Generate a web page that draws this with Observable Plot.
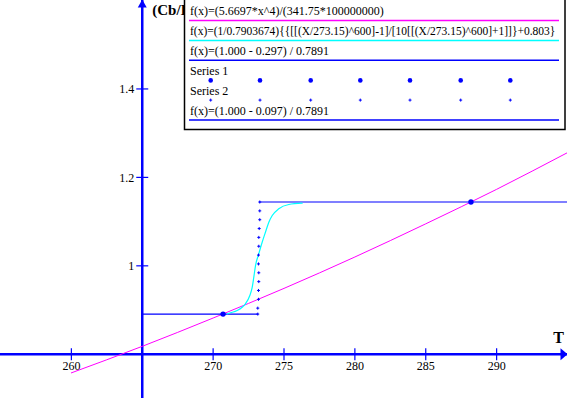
<!DOCTYPE html>
<html><head><meta charset="utf-8">
<script src="https://cdn.jsdelivr.net/npm/d3@7"></script>
<script src="https://cdn.jsdelivr.net/npm/@observablehq/plot@0.6"></script>
<style>
body{margin:0;background:#fff;}
#wrap{position:relative;width:567px;height:398px;overflow:hidden;font-family:"Liberation Serif",serif;}
#wrap svg{display:block;}
#legend{position:absolute;left:0;top:0;}
</style></head><body><div id="wrap"></div>
<script>
// ---- data ----
const xTicks = [260, 270, 275, 280, 285, 290];
const yTicks = [1, 1.2, 1.4];
const xAxisAt = 0.8;   // horizontal axis crosses at y = 0.8
const yAxisAt = 265;   // vertical axis crosses at T = 265
const xTitle = "T";
const yTitle = "(Cb/I";  // the rest is hidden behind the legend box in the reference

const magentaX = [260, 265, 270, 275, 280, 285, 290, 295];
const magentaY = [0.758, 0.818, 0.882, 0.949, 1.020, 1.095, 1.173, 1.256];

const cyanX = [270.99, 271.23, 271.70, 272.05, 272.28, 272.59, 272.76, 272.87, 272.99, 273.22, 273.46, 273.69, 273.93, 274.17, 274.63, 275.34, 276.28];
const cyanY = [0.8915, 0.8938, 0.8990, 0.9064, 0.9141, 0.9329, 0.9517, 0.9743, 1.0007, 1.0272, 1.0534, 1.0760, 1.0987, 1.1138, 1.1290, 1.1387, 1.1416];

const lowX = [265, 273.15];
const lowY = [0.8909, 0.8909];
const highX = [273.29, 295];
const highY = [1.1443, 1.1443];

const s1X = [270.7, 288.19];
const s1Y = [0.8909, 1.1443];

const s2X = [273.29, 273.29, 273.29, 273.25, 273.22, 273.22, 273.20, 273.20, 273.22, 273.22, 273.20, 273.20, 273.15, 273.15];
const s2Y = [1.1443, 1.1243, 1.1043, 1.0843, 1.0643, 1.0443, 1.0243, 1.0043, 0.9843, 0.9643, 0.9443, 0.9243, 0.9043, 0.8909];

const legendLabels = [
  "f(x)=(5.6697*x^4)/(341.75*100000000)",
  "f(x)=(1/0.7903674){{[[(X/273.15)^600]-1]/[10[[(X/273.15)^600]+1]]}+0.803}",
  "f(x)=(1.000 - 0.297) / 0.7891",
  "Series 1",
  "Series 2",
  "f(x)=(1.000 - 0.097) / 0.7891"
];
const legendKinds = ["line", "line", "line", "dot", "plus", "line"];
const legendColors = ["#ff00ff", "#00ffff", "#0000ff", "#0000ff", "#0000ff", "#0000ff"];

// ---- build tables ----
const zip = (xs, ys) => xs.map((x, i) => ({x, y: ys[i]}));
const magenta = zip(magentaX, magentaY);
const cyan = zip(cyanX, cyanY);
const low = zip(lowX, lowY);
const high = zip(highX, highY);
const s1 = zip(s1X, s1Y);
const s2 = zip(s2X, s2Y);

const BLUE = "#0000ff";
const FONT = "Liberation Serif";

const vTick = {draw(c) { c.moveTo(0, -6); c.lineTo(0, 6); }};
const hTick = {draw(c) { c.moveTo(-6, 0); c.lineTo(6, 0); }};
const arrowUp = {draw(c) { c.moveTo(0, -1); c.lineTo(4.5, 7); c.lineTo(-4.5, 7); c.closePath(); }};
const arrowRight = {draw(c) { c.moveTo(0, 0); c.lineTo(-7, -6); c.lineTo(-7, 6); c.closePath(); }};
const plusSym = {draw(c) { c.moveTo(-1.5, 0); c.lineTo(1.5, 0); c.moveTo(0, -1.5); c.lineTo(0, 1.5); }};

const chart = Plot.plot({
  width: 567,
  height: 398,
  margin: 0,
  x: {domain: [255, 295], axis: null},
  y: {domain: [0.7, 1.6], axis: null},
  style: {background: "#fff", fontFamily: FONT},
  marks: [
    // axes
    Plot.ruleY([xAxisAt], {stroke: BLUE, strokeWidth: 2.5}),
    Plot.ruleX([yAxisAt], {stroke: BLUE, strokeWidth: 2.5}),
    Plot.dot(xTicks, {x: d => d, y: xAxisAt, symbol: vTick, stroke: BLUE, strokeWidth: 1.2, fill: "none"}),
    Plot.dot(yTicks, {x: yAxisAt, y: d => d, symbol: hTick, stroke: BLUE, strokeWidth: 1.2, fill: "none"}),
    Plot.dot([0], {x: yAxisAt, y: 1.6, symbol: arrowUp, fill: BLUE, stroke: "none"}),
    Plot.dot([0], {x: 295, y: xAxisAt, symbol: arrowRight, fill: BLUE, stroke: "none"}),
    Plot.text(xTicks, {x: d => d, y: xAxisAt, text: d => String(d), dy: 12, fontSize: 12, fill: "#000", fontFamily: FONT}),
    Plot.text(yTicks, {x: yAxisAt, y: d => d, text: d => String(d), dx: -8, dy: 0.5, textAnchor: "end", fontSize: 12, fill: "#000", fontFamily: FONT}),
    Plot.text([xTitle], {x: 295, y: xAxisAt, text: d => d, dx: -9, dy: -16, fontSize: 16, fontWeight: "bold", fill: "#000", fontFamily: FONT}),
    Plot.text([yTitle], {x: yAxisAt, y: 1.6, text: d => d, dx: 10, dy: 10, textAnchor: "start", fontSize: 15, fontWeight: "bold", fill: "#000", fontFamily: FONT}),
    // data
    Plot.line(magenta, {x: "x", y: "y", stroke: "#ff00ff", strokeWidth: 1, curve: "monotone-x"}),
    Plot.line(low, {x: "x", y: "y", stroke: BLUE, strokeWidth: 1.2}),
    Plot.line(high, {x: "x", y: "y", stroke: BLUE, strokeWidth: 1.2}),
    Plot.line(cyan, {x: "x", y: "y", stroke: "#00ffff", strokeWidth: 1.2, curve: "monotone-x"}),
    Plot.dot(s2, {x: "x", y: "y", symbol: plusSym, stroke: BLUE, strokeWidth: 1, fill: "none"}),
    Plot.dot(s1, {x: "x", y: "y", r: 2.7, fill: BLUE, stroke: "none"})
  ]
});
const wrap = document.getElementById("wrap");
wrap.appendChild(chart);

// ---- legend box (overlay) ----
const lg = d3.create("svg").attr("id", "legend").attr("width", 567).attr("height", 398);
lg.append("rect").attr("x", 184.5).attr("y", -2).attr("width", 380.5).attr("height", 131.5)
  .attr("fill", "#fff").attr("stroke", "#000").attr("stroke-width", 1.5);
const markerXs = [210.7, 260, 310.7, 360.3, 410, 460.7, 510.3];
legendLabels.forEach((lab, i) => {
  const base = 15 + 19.9 * i;
  lg.append("text").attr("x", 190).attr("y", base).attr("font-family", FONT)
    .attr("font-size", lab.length > 60 ? 11.5 : 12)
    .attr("fill", "#000").text(lab);
  const k = legendKinds[i], col = legendColors[i];
  if (k === "line") {
    lg.append("line").attr("x1", 189).attr("x2", 559).attr("y1", base + 5.5).attr("y2", base + 5.5)
      .attr("stroke", col).attr("stroke-width", 1.5);
  } else if (k === "dot") {
    markerXs.forEach(mx => lg.append("circle").attr("cx", mx).attr("cy", base + 5.7).attr("r", 2.3).attr("fill", col));
  } else {
    markerXs.forEach(mx => lg.append("path").attr("d", `M${mx-1.5},${base+5.5}h3M${mx},${base+4}v3`).attr("stroke", col).attr("stroke-width", 1));
  }
});
wrap.appendChild(lg.node());
</script>
</body></html>
